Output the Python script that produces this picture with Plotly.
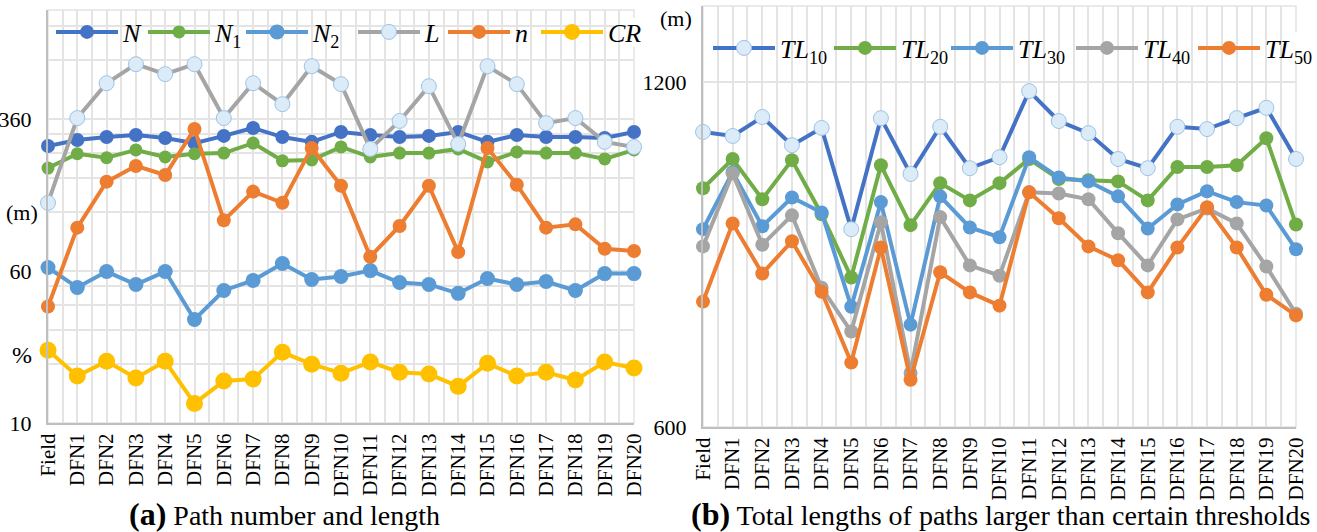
import plotly.graph_objects as go

categories = ["Field", "DFN1", "DFN2", "DFN3", "DFN4", "DFN5", "DFN6", "DFN7", "DFN8", "DFN9", "DFN10",
              "DFN11", "DFN12", "DFN13", "DFN14", "DFN15", "DFN16", "DFN17", "DFN18", "DFN19", "DFN20"]

# Panel (a): log (base-6 style) axis values
N = [262, 281, 291, 298, 288, 271, 295, 324, 291, 275, 309, 298, 291, 295, 309, 275, 298, 291, 291, 288, 309]
N1 = [202, 239, 228, 250, 230, 239, 241, 271, 220, 222, 259, 230, 241, 241, 253, 217, 244, 241, 241, 225, 250]
N2 = [62.5, 49.4, 59.6, 51.2, 59.6, 33.9, 47.7, 53.7, 65.5, 54.3, 56.2, 60.3, 52.4, 51.2, 46.1, 54.9, 51.2, 53.0, 47.7, 58.2, 58.2]
L = [134, 364, 549, 687, 611, 687, 364, 549, 429, 671, 543, 253, 352, 530, 268, 671, 543, 343, 364, 275, 259]
n = [39.5, 100, 172, 207, 186, 320, 109, 153, 134, 256, 164, 71, 102, 164, 75, 256, 166, 100, 104, 78, 76]
CR = [23.6, 17.4, 20.7, 17.0, 20.7, 12.6, 16.4, 16.8, 23.0, 20.0, 18.0, 20.5, 18.2, 17.8, 15.4, 20.2, 17.4, 18.2, 16.6, 20.5, 19.1]

# Panel (b): total lengths (m)
TL10 = [1113, 1106, 1139, 1090, 1120, 944, 1137, 1040, 1122, 1050, 1069, 1184, 1132, 1111, 1066, 1050, 1122, 1118, 1137, 1155, 1066]
TL20 = [1015, 1066, 996, 1064, 970, 860, 1055, 951, 1024, 994, 1024, 1066, 1031, 1029, 1027, 994, 1052, 1052, 1055, 1102, 952]
TL30 = [944, 1043, 949, 999, 973, 809, 991, 778, 1001, 947, 930, 1069, 1034, 1027, 1001, 945, 987, 1010, 991, 985, 909]
TL40 = [914, 1041, 917, 968, 842, 766, 956, 694, 965, 881, 863, 1008, 1006, 996, 937, 881, 961, 980, 954, 879, 797]
TL50 = [818, 954, 867, 923, 835, 712, 912, 682, 869, 834, 811, 1008, 963, 914, 890, 834, 912, 982, 912, 830, 794]

left_major_ticks = [10, 60, 360]
left_minor_ticks = [20, 30, 40, 50, 120, 180, 240, 300, 720, 1080]
right_ticks = [600, 1200]

FONT = "'Liberation Serif', 'Times New Roman', Times, serif"
GRID = "#e4e4e4"
AXIS = "#bfbfbf"
LIGHT_FILL = "#dcebf8"
LIGHT_EDGE = "#9dc3e6"

W, H = 1317, 532
def px_x(p):
    return p / W
def px_y(p):
    return (H - p) / H

x_idx = list(range(len(categories)))

fig = go.Figure()

left_series = [
    ("<i>N</i>", N, "#4472c4", dict(size=14, color="#4472c4")),
    ("<i>N</i><sub>1</sub>", N1, "#70ad47", dict(size=13, color="#70ad47")),
    ("<i>N</i><sub>2</sub>", N2, "#5b9bd5", dict(size=15, color="#5b9bd5")),
    ("<i>L</i>", L, "#a5a5a5", dict(size=15, color=LIGHT_FILL, line=dict(color=LIGHT_EDGE, width=1))),
    ("<i>n</i>", n, "#ed7d31", dict(size=14, color="#ed7d31")),
    ("<i>CR</i>", CR, "#ffc000", dict(size=17, color="#ffc000")),
]
left_leg_x = [55, 147, 245, 357, 447, 540]

right_series = [
    ("<i>TL</i><sub>10</sub>", TL10, "#4472c4", dict(size=15, color=LIGHT_FILL, line=dict(color=LIGHT_EDGE, width=1))),
    ("<i>TL</i><sub>20</sub>", TL20, "#70ad47", dict(size=14, color="#70ad47")),
    ("<i>TL</i><sub>30</sub>", TL30, "#5b9bd5", dict(size=14, color="#5b9bd5")),
    ("<i>TL</i><sub>40</sub>", TL40, "#a5a5a5", dict(size=14, color="#a5a5a5")),
    ("<i>TL</i><sub>50</sub>", TL50, "#ed7d31", dict(size=14, color="#ed7d31")),
]
right_leg_x = [712, 833, 950, 1075, 1197]

legends = {}
k = 0
for (name, vals, col, mk), lx in zip(left_series, left_leg_x):
    k += 1
    key = "legend" if k == 1 else f"legend{k}"
    fig.add_trace(go.Scatter(x=x_idx, y=vals, name=name, mode="lines+markers",
                             line=dict(color=col, width=4), marker=mk, showlegend=True,
                             xaxis="x", yaxis="y", legend=key, cliponaxis=False))
    legends[key] = dict(orientation="h", x=px_x(lx - 4), y=px_y(32), xanchor="left", yanchor="middle",
                        bgcolor="rgba(255,255,255,0)", font=dict(family=FONT, size=26, color="black"),
                        itemwidth=62, visible=True)
for (name, vals, col, mk), lx in zip(right_series, right_leg_x):
    k += 1
    key = f"legend{k}"
    fig.add_trace(go.Scatter(x=x_idx, y=vals, name=name, mode="lines+markers",
                             line=dict(color=col, width=4), marker=mk, showlegend=True,
                             xaxis="x2", yaxis="y2", legend=key, cliponaxis=False))
    legends[key] = dict(orientation="h", x=px_x(lx - 4), y=px_y(48), xanchor="left", yanchor="middle",
                        bgcolor="rgba(255,255,255,0)", font=dict(family=FONT, size=26, color="black"),
                        itemwidth=62, visible=True)

xcommon = dict(range=[0, 20], tickmode="array", tickvals=x_idx, ticktext=categories, tickangle=-90,
               showgrid=True, gridcolor=GRID, gridwidth=1.5,
               minor=dict(dtick=0.5, tick0=0, showgrid=True, gridcolor=GRID, gridwidth=1.5),
               showline=True, linecolor=AXIS, linewidth=2, zeroline=False, ticks="", automargin=False,
               tickfont=dict(family=FONT, size=21, color="black"), fixedrange=True)

fig.update_layout(
    width=W, height=H, margin=dict(l=0, r=0, t=0, b=0, autoexpand=False),
    showlegend=True,
    plot_bgcolor="white", paper_bgcolor="white",
    font=dict(family=FONT, color="black"),
    xaxis=dict(domain=[px_x(48), px_x(634)], anchor="y", **xcommon),
    yaxis=dict(domain=[px_y(423), px_y(10)], anchor="x", type="log", range=[1, 3.1144],
               tickmode="array", tickvals=left_major_ticks, ticktext=[str(v) for v in left_major_ticks],
               minor=dict(tickmode="array", tickvals=left_minor_ticks, showgrid=True,
                          gridcolor=GRID, gridwidth=1.5),
               showgrid=True, gridcolor=GRID, gridwidth=1.5, automargin=False,
               showline=True, linecolor=AXIS, linewidth=2, zeroline=False, ticks="",
               ticklabelstandoff=10,
               tickfont=dict(family=FONT, size=22, color="black")),
    xaxis2=dict(domain=[px_x(703), px_x(1296)], anchor="y2", **xcommon),
    yaxis2=dict(domain=[px_y(427), px_y(6)], anchor="x2", range=[600, 1332],
                tickmode="array", tickvals=right_ticks,
                showgrid=True, gridcolor=GRID, gridwidth=1.5, automargin=False,
                showline=True, linecolor=AXIS, linewidth=2, zeroline=False, ticks="",
                ticklabelstandoff=10,
                tickfont=dict(family=FONT, size=22, color="black")),
    shapes=[
        dict(type="rect", xref="x domain", yref="y domain", x0=0, x1=1, y0=0, y1=1,
             line=dict(color=GRID, width=1.5), layer="below"),
        dict(type="rect", xref="x2 domain", yref="y2 domain", x0=0, x1=1, y0=0, y1=1,
             line=dict(color=GRID, width=1.5), layer="below"),
        # white legend panels over the gridlines
        dict(type="rect", xref="paper", yref="paper", x0=px_x(50), x1=px_x(642), y0=px_y(47), y1=px_y(18),
             fillcolor="white", line=dict(width=0), layer="between"),
        dict(type="rect", xref="paper", yref="paper", x0=px_x(706), x1=px_x(1300), y0=px_y(64), y1=px_y(32),
             fillcolor="white", line=dict(width=0), layer="between"),
    ],
    annotations=[
        dict(text="(m)", x=px_x(22), y=px_y(212), xref="paper", yref="paper", showarrow=False,
             font=dict(family=FONT, size=22, color="black"), xanchor="center", yanchor="middle"),
        dict(text="%", x=px_x(22), y=px_y(355), xref="paper", yref="paper", showarrow=False,
             font=dict(family=FONT, size=24, color="black"), xanchor="center", yanchor="middle"),
        dict(text="(m)", x=px_x(676), y=px_y(18), xref="paper", yref="paper", showarrow=False,
             font=dict(family=FONT, size=22, color="black"), xanchor="center", yanchor="middle"),
        dict(text="<span style='font-size:32px'><b>(a)</b></span> Path number and length",
             x=px_x(284), y=px_y(514), xref="paper", yref="paper", showarrow=False,
             font=dict(family=FONT, size=28, color="black"), xanchor="center", yanchor="middle"),
        dict(text="<span style='font-size:32px'><b>(b)</b></span> Total lengths of paths larger than certain thresholds",
             x=px_x(1000), y=px_y(514), xref="paper", yref="paper", showarrow=False,
             font=dict(family=FONT, size=28, color="black"), xanchor="center", yanchor="middle"),
    ],
    **legends,
)

fig.write_html("out.html")
